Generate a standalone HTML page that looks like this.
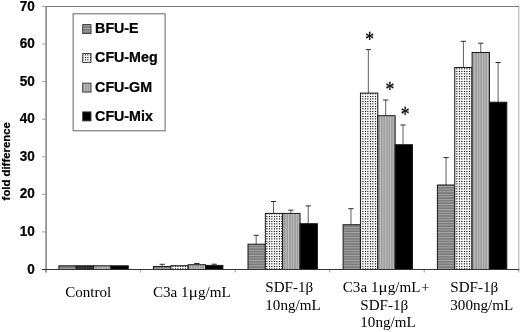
<!DOCTYPE html>
<html><head><meta charset="utf-8"><title>Chart</title>
<style>
html,body{margin:0;padding:0;background:#fff;}
body{width:520px;height:332px;overflow:hidden;position:relative;}
svg{position:absolute;left:0;top:0;display:block;}
.ax,.lg,.yl{stroke:#000;stroke-width:0.25px;}
.ax{font-family:"Liberation Sans",Arial,sans-serif;font-weight:bold;font-size:15.3px;fill:#000;}
.lg{font-family:"Liberation Sans",Arial,sans-serif;font-weight:bold;font-size:14.8px;fill:#000;}
.yl{font-family:"Liberation Sans",Arial,sans-serif;font-weight:bold;font-size:11.35px;fill:#000;}
.cat{font-family:"Liberation Serif","Times New Roman",serif;font-size:15.1px;fill:#000;}
.star{font-family:"Liberation Serif","Times New Roman",serif;font-size:20px;fill:#000;stroke:#000;stroke-width:0.3px;}
</style></head><body>
<svg width="520" height="332" viewBox="0 0 520 332">
<defs>
<pattern id="pH" width="5" height="2.55" patternUnits="userSpaceOnUse"><rect width="5" height="2.55" fill="#787878"/><rect y="0" width="5" height="1" fill="#a8a8a8"/></pattern>
<pattern id="pD0" width="5" height="5" patternUnits="userSpaceOnUse" patternTransform="translate(4,0)"><rect width="5" height="5" fill="#fff"/><rect x="0.9" y="0.9" width="1.2" height="1.2" fill="#1a1a1a"/><rect x="3.25" y="0.9" width="1.2" height="1.2" fill="#1a1a1a"/><rect x="0.9" y="3.25" width="1.2" height="1.2" fill="#1a1a1a"/><rect x="3.25" y="3.25" width="1.2" height="1.2" fill="#1a1a1a"/></pattern><pattern id="pD1" width="5" height="5" patternUnits="userSpaceOnUse" patternTransform="translate(4,0)"><rect width="5" height="5" fill="#fff"/><rect x="0.9" y="0.9" width="1.2" height="1.2" fill="#1a1a1a"/><rect x="3.25" y="0.9" width="1.2" height="1.2" fill="#1a1a1a"/><rect x="0.9" y="3.25" width="1.2" height="1.2" fill="#1a1a1a"/><rect x="3.25" y="3.25" width="1.2" height="1.2" fill="#1a1a1a"/></pattern><pattern id="pD2" width="5" height="5" patternUnits="userSpaceOnUse" patternTransform="translate(3,0)"><rect width="5" height="5" fill="#fff"/><rect x="0.9" y="0.9" width="1.2" height="1.2" fill="#1a1a1a"/><rect x="3.25" y="0.9" width="1.2" height="1.2" fill="#1a1a1a"/><rect x="0.9" y="3.25" width="1.2" height="1.2" fill="#1a1a1a"/><rect x="3.25" y="3.25" width="1.2" height="1.2" fill="#1a1a1a"/></pattern><pattern id="pD3" width="5" height="5" patternUnits="userSpaceOnUse" patternTransform="translate(4,0)"><rect width="5" height="5" fill="#fff"/><rect x="0.9" y="0.9" width="1.2" height="1.2" fill="#1a1a1a"/><rect x="3.25" y="0.9" width="1.2" height="1.2" fill="#1a1a1a"/><rect x="0.9" y="3.25" width="1.2" height="1.2" fill="#1a1a1a"/><rect x="3.25" y="3.25" width="1.2" height="1.2" fill="#1a1a1a"/></pattern><pattern id="pD4" width="5" height="5" patternUnits="userSpaceOnUse" patternTransform="translate(3,0)"><rect width="5" height="5" fill="#fff"/><rect x="0.9" y="0.9" width="1.2" height="1.2" fill="#1a1a1a"/><rect x="3.25" y="0.9" width="1.2" height="1.2" fill="#1a1a1a"/><rect x="0.9" y="3.25" width="1.2" height="1.2" fill="#1a1a1a"/><rect x="3.25" y="3.25" width="1.2" height="1.2" fill="#1a1a1a"/></pattern><pattern id="pDL" width="5" height="5" patternUnits="userSpaceOnUse" patternTransform="translate(4,1)"><rect width="5" height="5" fill="#fff"/><rect x="0.9" y="0.9" width="1.2" height="1.2" fill="#1a1a1a"/><rect x="3.25" y="0.9" width="1.2" height="1.2" fill="#1a1a1a"/><rect x="0.9" y="3.25" width="1.2" height="1.2" fill="#1a1a1a"/><rect x="3.25" y="3.25" width="1.2" height="1.2" fill="#1a1a1a"/></pattern><pattern id="pDk" width="2.5" height="5" patternUnits="userSpaceOnUse"><rect width="2.5" height="5" fill="#262626"/><rect x="0.7" y="2.2" width="1" height="1" fill="#6a6a6a"/></pattern>
<pattern id="pV" width="2.55" height="5" patternUnits="userSpaceOnUse"><rect width="2.55" height="5" fill="#9a9a9a"/><rect x="0" width="1" height="5" fill="#c2c2c2"/></pattern>
</defs>
<rect width="520" height="332" fill="#fff"/>

<line x1="45.6" y1="6.5" x2="519.3" y2="6.5" stroke="#777" stroke-width="1"/>
<line x1="518.8" y1="6.5" x2="518.8" y2="269.5" stroke="#aaa" stroke-width="1"/>
<line x1="46.1" y1="6.5" x2="46.1" y2="272.5" stroke="#888" stroke-width="1.6"/>
<line x1="42.1" y1="269.50" x2="46.1" y2="269.50" stroke="#8a8a8a" stroke-width="0.8"/>
<text class="ax" transform="translate(34.9,273.55) scale(0.885,1)" text-anchor="end">0</text>
<line x1="42.1" y1="231.93" x2="46.1" y2="231.93" stroke="#8a8a8a" stroke-width="0.8"/>
<text class="ax" transform="translate(34.9,235.98) scale(0.885,1)" text-anchor="end">10</text>
<line x1="42.1" y1="194.36" x2="46.1" y2="194.36" stroke="#8a8a8a" stroke-width="0.8"/>
<text class="ax" transform="translate(34.9,198.41) scale(0.885,1)" text-anchor="end">20</text>
<line x1="42.1" y1="156.79" x2="46.1" y2="156.79" stroke="#8a8a8a" stroke-width="0.8"/>
<text class="ax" transform="translate(34.9,160.84) scale(0.885,1)" text-anchor="end">30</text>
<line x1="42.1" y1="119.21" x2="46.1" y2="119.21" stroke="#8a8a8a" stroke-width="0.8"/>
<text class="ax" transform="translate(34.9,123.26) scale(0.885,1)" text-anchor="end">40</text>
<line x1="42.1" y1="81.64" x2="46.1" y2="81.64" stroke="#8a8a8a" stroke-width="0.8"/>
<text class="ax" transform="translate(34.9,85.69) scale(0.885,1)" text-anchor="end">50</text>
<line x1="42.1" y1="44.07" x2="46.1" y2="44.07" stroke="#8a8a8a" stroke-width="0.8"/>
<text class="ax" transform="translate(34.9,48.12) scale(0.885,1)" text-anchor="end">60</text>
<line x1="42.1" y1="6.50" x2="46.1" y2="6.50" stroke="#8a8a8a" stroke-width="0.8"/>
<text class="ax" transform="translate(34.9,10.55) scale(0.885,1)" text-anchor="end">70</text>
<line x1="46.10" y1="269.5" x2="46.10" y2="272.5" stroke="#999" stroke-width="1"/>
<line x1="140.64" y1="269.5" x2="140.64" y2="272.5" stroke="#999" stroke-width="1"/>
<line x1="235.18" y1="269.5" x2="235.18" y2="272.5" stroke="#999" stroke-width="1"/>
<line x1="329.72" y1="269.5" x2="329.72" y2="272.5" stroke="#999" stroke-width="1"/>
<line x1="424.26" y1="269.5" x2="424.26" y2="272.5" stroke="#999" stroke-width="1"/>
<line x1="518.80" y1="269.5" x2="518.80" y2="272.5" stroke="#999" stroke-width="1"/>
<rect x="58.90" y="265.8" width="17.35" height="3.70" fill="url(#pH)" stroke="#1a1a1a" stroke-width="1"/>
<rect x="76.25" y="265.8" width="17.35" height="3.70" fill="url(#pDk)" stroke="#1a1a1a" stroke-width="1"/>
<rect x="93.60" y="265.8" width="17.35" height="3.70" fill="url(#pV)" stroke="#1a1a1a" stroke-width="1"/>
<rect x="110.95" y="265.8" width="17.35" height="3.70" fill="#000" stroke="#1a1a1a" stroke-width="1"/>
<line x1="162.18" y1="264.3" x2="162.18" y2="266.5" stroke="#333" stroke-width="0.8"/>
<line x1="159.58" y1="264.3" x2="164.78" y2="264.3" stroke="#2a2a2a" stroke-width="1"/>
<rect x="153.50" y="266.5" width="17.35" height="3.00" fill="url(#pH)" stroke="#1a1a1a" stroke-width="1"/>
<rect x="170.85" y="265.7" width="17.35" height="3.80" fill="url(#pD1)" stroke="#1a1a1a" stroke-width="1"/>
<line x1="196.88" y1="263.5" x2="196.88" y2="264.7" stroke="#333" stroke-width="0.8"/>
<line x1="194.28" y1="263.5" x2="199.47" y2="263.5" stroke="#2a2a2a" stroke-width="1"/>
<rect x="188.20" y="264.7" width="17.35" height="4.80" fill="url(#pV)" stroke="#1a1a1a" stroke-width="1"/>
<line x1="214.23" y1="264.2" x2="214.23" y2="265.4" stroke="#333" stroke-width="0.8"/>
<line x1="211.63" y1="264.2" x2="216.83" y2="264.2" stroke="#2a2a2a" stroke-width="1"/>
<rect x="205.55" y="265.4" width="17.35" height="4.10" fill="#000" stroke="#1a1a1a" stroke-width="1"/>
<line x1="256.18" y1="235.3" x2="256.18" y2="244.2" stroke="#333" stroke-width="0.8"/>
<line x1="253.58" y1="235.3" x2="258.78" y2="235.3" stroke="#2a2a2a" stroke-width="1"/>
<rect x="248.00" y="244.2" width="17.35" height="25.30" fill="url(#pH)" stroke="#1a1a1a" stroke-width="1"/>
<line x1="273.53" y1="201.5" x2="273.53" y2="213.4" stroke="#333" stroke-width="0.8"/>
<line x1="270.93" y1="201.5" x2="276.13" y2="201.5" stroke="#2a2a2a" stroke-width="1"/>
<rect x="265.35" y="213.4" width="17.35" height="56.10" fill="url(#pD2)" stroke="#1a1a1a" stroke-width="1"/>
<line x1="290.88" y1="210.2" x2="290.88" y2="213.4" stroke="#333" stroke-width="0.8"/>
<line x1="288.27" y1="210.2" x2="293.48" y2="210.2" stroke="#2a2a2a" stroke-width="1"/>
<rect x="282.70" y="213.4" width="17.35" height="56.10" fill="url(#pV)" stroke="#1a1a1a" stroke-width="1"/>
<line x1="308.23" y1="205.9" x2="308.23" y2="223.7" stroke="#333" stroke-width="0.8"/>
<line x1="305.62" y1="205.9" x2="310.83" y2="205.9" stroke="#2a2a2a" stroke-width="1"/>
<rect x="300.05" y="223.7" width="17.35" height="45.80" fill="#000" stroke="#1a1a1a" stroke-width="1"/>
<line x1="350.98" y1="208.7" x2="350.98" y2="224.7" stroke="#333" stroke-width="0.8"/>
<line x1="348.38" y1="208.7" x2="353.58" y2="208.7" stroke="#2a2a2a" stroke-width="1"/>
<rect x="343.10" y="224.7" width="17.35" height="44.80" fill="url(#pH)" stroke="#1a1a1a" stroke-width="1"/>
<line x1="368.33" y1="49.6" x2="368.33" y2="93.1" stroke="#333" stroke-width="0.8"/>
<line x1="365.73" y1="49.6" x2="370.93" y2="49.6" stroke="#2a2a2a" stroke-width="1"/>
<rect x="360.45" y="93.1" width="17.35" height="176.40" fill="url(#pD3)" stroke="#1a1a1a" stroke-width="1"/>
<line x1="385.68" y1="100.0" x2="385.68" y2="115.7" stroke="#333" stroke-width="0.8"/>
<line x1="383.07" y1="100.0" x2="388.28" y2="100.0" stroke="#2a2a2a" stroke-width="1"/>
<rect x="377.80" y="115.7" width="17.35" height="153.80" fill="url(#pV)" stroke="#1a1a1a" stroke-width="1"/>
<line x1="403.03" y1="125.0" x2="403.03" y2="144.7" stroke="#333" stroke-width="0.8"/>
<line x1="400.43" y1="125.0" x2="405.63" y2="125.0" stroke="#2a2a2a" stroke-width="1"/>
<rect x="395.15" y="144.7" width="17.35" height="124.80" fill="#000" stroke="#1a1a1a" stroke-width="1"/>
<line x1="446.07" y1="157.6" x2="446.07" y2="185.0" stroke="#333" stroke-width="0.8"/>
<line x1="443.47" y1="157.6" x2="448.68" y2="157.6" stroke="#2a2a2a" stroke-width="1"/>
<rect x="437.40" y="185.0" width="17.35" height="84.50" fill="url(#pH)" stroke="#1a1a1a" stroke-width="1"/>
<line x1="463.43" y1="41.3" x2="463.43" y2="67.5" stroke="#333" stroke-width="0.8"/>
<line x1="460.82" y1="41.3" x2="466.03" y2="41.3" stroke="#2a2a2a" stroke-width="1"/>
<rect x="454.75" y="67.5" width="17.35" height="202.00" fill="url(#pD4)" stroke="#1a1a1a" stroke-width="1"/>
<line x1="480.77" y1="43.2" x2="480.77" y2="52.5" stroke="#333" stroke-width="0.8"/>
<line x1="478.17" y1="43.2" x2="483.38" y2="43.2" stroke="#2a2a2a" stroke-width="1"/>
<rect x="472.10" y="52.5" width="17.35" height="217.00" fill="url(#pV)" stroke="#1a1a1a" stroke-width="1"/>
<line x1="498.12" y1="62.5" x2="498.12" y2="102.2" stroke="#333" stroke-width="0.8"/>
<line x1="495.52" y1="62.5" x2="500.73" y2="62.5" stroke="#2a2a2a" stroke-width="1"/>
<rect x="489.45" y="102.2" width="17.35" height="167.30" fill="#000" stroke="#1a1a1a" stroke-width="1"/>
<line x1="42.1" y1="269.5" x2="519.3" y2="269.5" stroke="#333" stroke-width="1.1"/>
<rect x="73.1" y="13.8" width="92" height="117" fill="#fff" stroke="#666" stroke-width="1"/>
<rect x="82.7" y="24.6" width="8.3" height="9.0" fill="url(#pH)" stroke="#333" stroke-width="0.9"/>
<text class="lg" transform="translate(95.1,33.3) scale(0.963,1)">BFU-E</text>
<rect x="82.7" y="53.5" width="8.3" height="9.0" fill="url(#pDL)" stroke="#333" stroke-width="0.9"/>
<text class="lg" transform="translate(95.1,62.2) scale(0.963,1)">CFU-Meg</text>
<rect x="82.7" y="83.1" width="8.3" height="9.0" fill="url(#pV)" stroke="#333" stroke-width="0.9"/>
<text class="lg" transform="translate(95.1,91.8) scale(0.963,1)">CFU-GM</text>
<rect x="82.7" y="111.9" width="8.3" height="9.0" fill="#000" stroke="#333" stroke-width="0.9"/>
<text class="lg" transform="translate(95.1,120.6) scale(0.963,1)">CFU-Mix</text>
<text class="yl" transform="translate(9.8,200.4) rotate(-90)">fold difference</text>
<text class="cat" x="65.2" y="297.3">Control</text>
<text class="cat" x="153.0" y="297.2">C3a 1<tspan textLength="9.1" lengthAdjust="spacingAndGlyphs">μ</tspan><tspan dx="0.2">g/mL</tspan></text>
<text class="cat" x="265.3" y="291.9">SDF-1β</text>
<text class="cat" x="265.3" y="309.5">10ng/mL</text>
<text class="cat" x="342.8" y="292.1">C3a 1<tspan textLength="9.1" lengthAdjust="spacingAndGlyphs">μ</tspan><tspan dx="0.2">g/mL</tspan><tspan dx="0.5">+</tspan></text>
<text class="cat" x="360.3" y="309.5">SDF-1β</text>
<text class="cat" x="360.3" y="326.9">10ng/mL</text>
<text class="cat" x="450.3" y="291.9">SDF-1β</text>
<text class="cat" x="450.3" y="309.5">300ng/mL</text>
<text class="star" transform="translate(369.6,45.6) scale(0.88,1)" text-anchor="middle">*</text>
<text class="star" transform="translate(390.0,95.9) scale(0.88,1)" text-anchor="middle">*</text>
<text class="star" transform="translate(405.1,121.0) scale(0.88,1)" text-anchor="middle">*</text>
</svg></body></html>
